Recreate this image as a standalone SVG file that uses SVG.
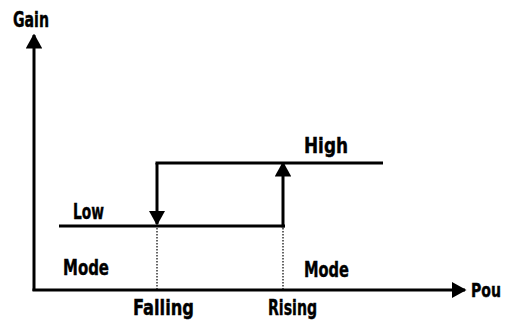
<svg xmlns="http://www.w3.org/2000/svg" width="508" height="324" viewBox="0 0 508 324">
<style>
text{font-family:"DejaVu Sans Condensed","DejaVu Sans",sans-serif;font-stretch:condensed;font-weight:bold;font-size:21.5px;fill:#000;stroke:#000;stroke-width:0.4}
.ln{stroke:#000;stroke-width:3;fill:none}
.dot{stroke:#000;stroke-width:1.2;stroke-dasharray:1.5 1.5;fill:none}
</style>
<defs>
<marker id="ah" viewBox="0 0 10 11" refX="9" refY="5.5" markerWidth="5" markerHeight="5.5" markerUnits="strokeWidth" orient="auto"><path d="M0,0 L10,5.5 L0,11 z" fill="#000"/></marker>
</defs>
<g id="axes">
<line class="ln" x1="34" y1="291" x2="34" y2="35" marker-end="url(#ah)"/>
<line class="ln" x1="32.5" y1="290" x2="465" y2="290" marker-end="url(#ah)"/>
</g>
<g id="connectors">
<line class="ln" x1="59" y1="226" x2="285" y2="226"/>
<line class="ln" x1="155.5" y1="163" x2="383" y2="163"/>
<line class="ln" x1="157" y1="163" x2="157" y2="224" marker-end="url(#ah)"/>
<line class="ln" x1="283" y1="227.5" x2="283" y2="163" marker-end="url(#ah)"/>
<line class="dot" x1="157" y1="228" x2="157" y2="289"/>
<line class="dot" x1="283" y1="228" x2="283" y2="289"/>
</g>
<g id="labels">
<text x="13" y="27" textLength="36" lengthAdjust="spacingAndGlyphs">Gain</text>
<text x="73" y="219" textLength="31" lengthAdjust="spacingAndGlyphs">Low</text>
<text x="304" y="153" textLength="44" lengthAdjust="spacingAndGlyphs">High</text>
<text x="63" y="275" textLength="46" lengthAdjust="spacingAndGlyphs">Mode</text>
<text x="304" y="277" textLength="45" lengthAdjust="spacingAndGlyphs">Mode</text>
<text x="133" y="315" textLength="61" lengthAdjust="spacingAndGlyphs">Falling</text>
<text x="268" y="315" textLength="49" lengthAdjust="spacingAndGlyphs">Rising</text>
<text x="471" y="297" style="font-size:19.5px" textLength="30" lengthAdjust="spacingAndGlyphs">Pou</text>
</g>
</svg>
